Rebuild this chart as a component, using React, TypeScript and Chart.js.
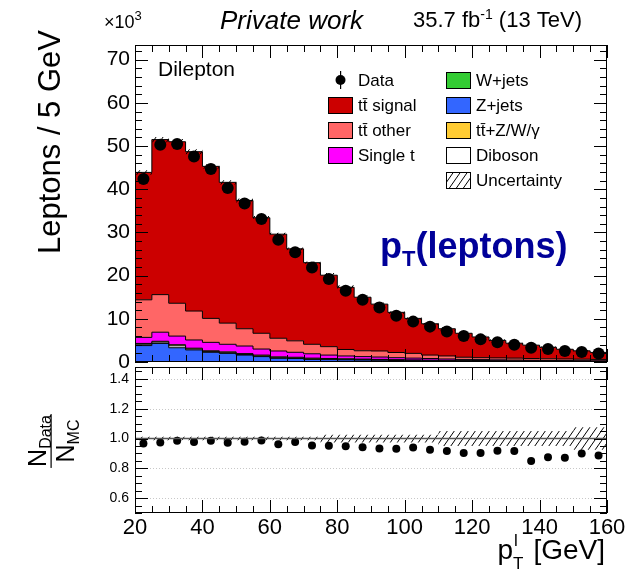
import React, { useEffect, useRef } from "react";
import { Chart, registerables } from "chart.js";
Chart.register(...registerables);

// ---------- data (yields in units of 10^3 leptons / 5 GeV) ----------
const binLowEdges = [20, 25, 30, 35, 40, 45, 50, 55, 60, 65, 70, 75, 80, 85, 90, 95, 100, 105, 110, 115, 120, 125, 130, 135, 140, 145, 150, 155];
const binCenters = [22.5, 27.5, 32.5, 37.5, 42.5, 47.5, 52.5, 57.5, 62.5, 67.5, 72.5, 77.5, 82.5, 87.5, 92.5, 97.5, 102.5, 107.5, 112.5, 117.5, 122.5, 127.5, 132.5, 137.5, 142.5, 147.5, 152.5, 157.5];
const histUpperEdge = 160;

const dataYield = [42.4, 50.3, 50.5, 47.6, 44.7, 40.3, 36.7, 33.1, 28.3, 25.4, 21.9, 19.2, 16.5, 14.4, 12.6, 10.7, 9.35, 8.19, 7.05, 6.0, 5.24, 4.59, 3.98, 3.31, 2.99, 2.57, 2.32, 1.97];
const ttSignal = [29.5, 35.9, 37.4, 36.9, 35.2, 32.6, 29.7, 26.75, 24.1, 21.3, 18.9, 16.55, 14.4, 12.4, 10.85, 9.3, 8.1, 7.25, 6.3, 5.55, 4.8, 4.05, 3.45, 3.1, 2.67, 2.25, 1.93, 1.62];
const ttOther = [8.7, 8.7, 7.6, 6.7, 5.55, 4.9, 4.0, 3.65, 2.95, 2.65, 2.2, 1.95, 1.5, 1.35, 1.4, 1.2, 1.1, 0.8, 0.7, 0.5, 0.45, 0.45, 0.45, 0.4, 0.39, 0.37, 0.35, 0.33];
const singleTop = [1.4, 2.1, 2.0, 1.9, 1.95, 1.75, 1.75, 1.4, 1.35, 1.15, 1.0, 0.78, 0.65, 0.57, 0.54, 0.46, 0.41, 0.36, 0.3, 0.25, 0.22, 0.21, 0.18, 0.15, 0.14, 0.13, 0.11, 0.09];
const wJets = [0.05, 0.05, 0.05, 0.05, 0.04, 0.04, 0.03, 0.03, 0.03, 0.02, 0.02, 0.02, 0.02, 0.02, 0.02, 0.01, 0.01, 0.01, 0.01, 0.01, 0.01, 0.01, 0.01, 0.01, 0.01, 0.01, 0.01, 0.01];
const zJets = [3.75, 4.25, 3.25, 2.75, 2.21, 1.96, 1.57, 1.22, 0.82, 0.78, 0.58, 0.53, 0.48, 0.43, 0.38, 0.34, 0.3, 0.27, 0.24, 0.21, 0.19, 0.17, 0.15, 0.14, 0.12, 0.11, 0.1, 0.09];
const ttV = [0.2, 0.2, 0.25, 0.2, 0.2, 0.2, 0.2, 0.2, 0.2, 0.18, 0.18, 0.17, 0.15, 0.14, 0.13, 0.12, 0.11, 0.1, 0.09, 0.08, 0.08, 0.07, 0.07, 0.06, 0.06, 0.05, 0.05, 0.05];
const diboson = [0.3, 0.3, 0.45, 0.2, 0.15, 0.15, 0.15, 0.15, 0.15, 0.12, 0.12, 0.1, 0.1, 0.09, 0.08, 0.07, 0.07, 0.06, 0.06, 0.05, 0.05, 0.04, 0.04, 0.04, 0.03, 0.03, 0.03, 0.03];
const mcRelUnc = [0.012, 0.012, 0.012, 0.012, 0.012, 0.012, 0.012, 0.012, 0.012, 0.012, 0.012, 0.026, 0.026, 0.026, 0.026, 0.026, 0.026, 0.026, 0.05, 0.05, 0.05, 0.05, 0.05, 0.05, 0.05, 0.05, 0.075, 0.075];
const dataOverMC = [0.966, 0.974, 0.985, 0.976, 0.985, 0.972, 0.978, 0.987, 0.961, 0.976, 0.953, 0.951, 0.948, 0.942, 0.933, 0.931, 0.94, 0.925, 0.916, 0.903, 0.903, 0.918, 0.916, 0.849, 0.875, 0.871, 0.899, 0.886];

const upperYTicks = [0, 10, 20, 30, 40, 50, 60, 70];
const ratioYTicks = [0.6, 0.8, 1, 1.2, 1.4];
const xTickLabels = [20, 40, 60, 80, 100, 120, 140, 160];

const FONT = '"Liberation Sans", Arial, Helvetica, sans-serif';
const COL = {
  signal: "#cc0000",
  other: "#ff6666",
  single: "#ff00ff",
  w: "#33cc33",
  z: "#3366ff",
  ttv: "#ffcc33",
  vv: "#ffffff",
};

const stepPoints = (vals: number[]) => [
  ...binLowEdges.map((x, i) => ({ x, y: vals[i] })),
  { x: histUpperEdge, y: vals[vals.length - 1] },
];

type Seg = { t: string; font: string; dy?: number };
function drawSegs(ctx: CanvasRenderingContext2D, segs: Seg[], x: number, y: number, align: "left" | "right" | "center" = "left") {
  ctx.textAlign = "left";
  ctx.textBaseline = "alphabetic";
  let total = 0;
  const ws = segs.map((s) => {
    ctx.font = s.font;
    const w = ctx.measureText(s.t).width;
    total += w;
    return w;
  });
  let cx = align === "left" ? x : align === "right" ? x - total : x - total / 2;
  segs.forEach((s, i) => {
    ctx.font = s.font;
    ctx.fillText(s.t, cx, y + (s.dy || 0));
    cx += ws[i];
  });
  return total;
}

function makeHatch(ctx: CanvasRenderingContext2D) {
  const c = document.createElement("canvas");
  const w = 7, h = 10;
  c.width = w;
  c.height = h;
  const g = c.getContext("2d")!;
  g.strokeStyle = "#000";
  g.lineWidth = 1;
  g.beginPath();
  for (const off of [-w, 0, w]) {
    g.moveTo(off, h);
    g.lineTo(off + w, 0);
  }
  g.stroke();
  return ctx.createPattern(c, "repeat")!;
}

function frameTicks(chart: any, xMinor: number, xMajor: number, yMin: number, yMax: number, yMinor: number, yMajorList: number[]) {
  const { ctx, chartArea: a, scales } = chart;
  const xs = scales.x, ys = scales.y;
  ctx.save();
  ctx.strokeStyle = "#000";
  ctx.lineWidth = 1;
  ctx.beginPath();
  for (let v = 20; v <= 160 + 1e-6; v += xMinor) {
    const px = Math.round(xs.getPixelForValue(v)) + 0.5;
    const major = Math.abs(v / xMajor - Math.round(v / xMajor)) < 1e-6;
    const len = major ? 13 : 7;
    ctx.moveTo(px, a.bottom);
    ctx.lineTo(px, a.bottom - len);
    ctx.moveTo(px, a.top);
    ctx.lineTo(px, a.top + len);
  }
  for (let v = yMin; v <= yMax + 1e-6; v += yMinor) {
    const py = Math.round(ys.getPixelForValue(v)) + 0.5;
    const major = yMajorList.some((m) => Math.abs(m - v) < 1e-6);
    const len = major ? 13 : 7;
    ctx.moveTo(a.left, py);
    ctx.lineTo(a.left + len, py);
    ctx.moveTo(a.right, py);
    ctx.lineTo(a.right - len, py);
  }
  ctx.stroke();
  ctx.strokeRect(Math.round(a.left) + 0.5, Math.round(a.top) + 0.5, Math.round(a.right - a.left) - 1, Math.round(a.bottom - a.top) - 1);
  ctx.restore();
}

export default function App() {
  const upRef = useRef<HTMLCanvasElement>(null);
  const loRef = useRef<HTMLCanvasElement>(null);

  useEffect(() => {
    const upCtx = upRef.current!.getContext("2d")!;
    const loCtx = loRef.current!.getContext("2d")!;
    const hatchUp = makeHatch(upCtx);
    const hatchLo = makeHatch(loCtx);

    const mcStack = [wJets, zJets, diboson, ttV, singleTop, ttOther, ttSignal];
    const mcTotal = binLowEdges.map((_, i) => mcStack.reduce((s, arr) => s + arr[i], 0));
    const uncLo = mcTotal.map((t, i) => t * (1 - mcRelUnc[i]));
    const uncHi = mcTotal.map((t, i) => t * (1 + mcRelUnc[i]));
    const ratioLo = mcRelUnc.map((u) => 1 - u);
    const ratioHi = mcRelUnc.map((u) => 1 + u);

    const mcDs = (vals: number[], color: string, first: boolean) => ({
      data: stepPoints(vals),
      stepped: "before" as const,
      stack: "mc",
      fill: first ? "origin" : "-1",
      backgroundColor: color,
      borderColor: "#000",
      borderWidth: 1,
      pointRadius: 0,
      order: 3,
    });

    const upperPlugin = {
      id: "upperDecor",
      afterDatasetsDraw(chart: any) {
        frameTicks(chart, 5, 20, 0, 72, 2, upperYTicks);
      },
      afterDraw(chart: any) {
        const ctx: CanvasRenderingContext2D = chart.ctx;
        ctx.save();
        ctx.fillStyle = "#000";
        // exponent
        drawSegs(ctx, [
          { t: "×10", font: `18px ${FONT}` },
          { t: "3", font: `13px ${FONT}`, dy: -8 },
        ], 104, 28);
        drawSegs(ctx, [{ t: "Private work", font: `italic 26px ${FONT}` }], 220, 29);
        drawSegs(ctx, [
          { t: "35.7 fb", font: `22px ${FONT}` },
          { t: "-1", font: `14px ${FONT}`, dy: -8 },
          { t: " (13 TeV)", font: `22px ${FONT}` },
        ], 413, 27);
        drawSegs(ctx, [{ t: "Dilepton", font: `21px ${FONT}` }], 158, 76);
        ctx.fillStyle = "#000099";
        drawSegs(ctx, [
          { t: "p", font: `bold 36px ${FONT}` },
          { t: "T", font: `bold 22px ${FONT}`, dy: 8 },
          { t: "(leptons)", font: `bold 36px ${FONT}` },
        ], 380, 258);
        ctx.fillStyle = "#000";
        // y title
        ctx.save();
        ctx.translate(60, 30);
        ctx.rotate(-Math.PI / 2);
        ctx.font = `31px ${FONT}`;
        ctx.textAlign = "right";
        ctx.textBaseline = "alphabetic";
        ctx.fillText("Leptons / 5 GeV", 0, 0);
        ctx.restore();

        // legend
        const lf = `17px ${FONT}`;
        const col1 = [
          { label: "tt\u0304 signal", color: COL.signal },
          { label: "tt\u0304 other", color: COL.other },
          { label: "Single t", color: COL.single },
        ];
        const col2 = [
          { label: "W+jets", color: COL.w },
          { label: "Z+jets", color: COL.z },
          { label: "tt\u0304+Z/W/γ", color: COL.ttv },
          { label: "Diboson", color: COL.vv },
          { label: "Uncertainty", color: "hatch" },
        ];
        const rowY = [80, 105, 130, 155, 180];
        // data entry
        ctx.beginPath();
        ctx.arc(340.5, rowY[0], 5, 0, Math.PI * 2);
        ctx.fill();
        ctx.fillRect(340, rowY[0] - 9, 1.2, 18);
        drawSegs(ctx, [{ t: "Data", font: lf }], 358, rowY[0] + 6);
        const box = (x: number, cy: number, color: string) => {
          if (color === "hatch") {
            ctx.fillStyle = "#fff";
            ctx.fillRect(x, cy - 8, 25, 17);
            ctx.fillStyle = hatchUp;
          } else ctx.fillStyle = color;
          ctx.fillRect(x, cy - 8, 25, 17);
          ctx.strokeStyle = "#000";
          ctx.lineWidth = 1;
          ctx.strokeRect(x + 0.5, cy - 7.5, 24, 16);
          ctx.fillStyle = "#000";
        };
        col1.forEach((e, i) => {
          box(328, rowY[i + 1], e.color);
          drawSegs(ctx, [{ t: e.label, font: lf }], 358, rowY[i + 1] + 6);
        });
        col2.forEach((e, i) => {
          box(446, rowY[i], e.color);
          drawSegs(ctx, [{ t: e.label, font: lf }], 476, rowY[i] + 6);
        });
        ctx.restore();
      },
    };

    const up = new Chart(upRef.current!, {
      type: "line",
      data: {
        datasets: [
          mcDs(wJets, COL.w, true),
          mcDs(zJets, COL.z, false),
          mcDs(diboson, COL.vv, false),
          mcDs(ttV, COL.ttv, false),
          mcDs(singleTop, COL.single, false),
          mcDs(ttOther, COL.other, false),
          mcDs(ttSignal, COL.signal, false),
          {
            data: stepPoints(uncLo),
            stepped: "before",
            stack: "ulo",
            fill: false,
            borderWidth: 0,
            pointRadius: 0,
            order: 2,
          },
          {
            data: stepPoints(uncHi),
            stepped: "before",
            stack: "uhi",
            fill: "-1",
            backgroundColor: hatchUp,
            borderWidth: 0,
            pointRadius: 0,
            order: 2,
          },
          {
            data: binCenters.map((x, i) => ({ x, y: dataYield[i] })),
            stack: "data",
            showLine: false,
            pointRadius: 6,
            pointBackgroundColor: "#000",
            pointBorderColor: "#000",
            pointBorderWidth: 0,
            order: 0,
          },
        ] as any,
      },
      options: {
        responsive: false,
        animation: false,
        events: [],
        layout: { padding: { left: 0, right: 22, top: 45, bottom: 215 } },
        plugins: { legend: { display: false }, tooltip: { enabled: false } },
        scales: {
          x: { type: "linear", min: 20, max: 160, display: false },
          y: {
            type: "linear",
            min: 0,
            max: 73.4,
            stacked: true,
            grid: { display: false, drawTicks: false },
            border: { display: false },
            ticks: { font: { family: FONT, size: 21 }, color: "#000", padding: 5 },
            afterBuildTicks: (s: any) => {
              s.ticks = upperYTicks.map((v) => ({ value: v }));
            },
            afterFit: (s: any) => {
              s.width = 135;
            },
          },
        },
      } as any,
      plugins: [upperPlugin],
    });

    const lowerPlugin = {
      id: "lowerDecor",
      beforeDatasetsDraw(chart: any) {
        const { ctx, chartArea: a, scales } = chart;
        ctx.save();
        ctx.strokeStyle = "#c8c8c8";
        ctx.lineWidth = 1;
        ctx.setLineDash([1, 2]);
        ctx.beginPath();
        for (const v of [0.6, 0.8, 1.2, 1.4]) {
          const py = Math.round(scales.y.getPixelForValue(v)) + 0.5;
          ctx.moveTo(a.left, py);
          ctx.lineTo(a.right, py);
        }
        ctx.stroke();
        ctx.restore();
      },
      afterDatasetsDraw(chart: any) {
        const { ctx, chartArea: a, scales } = chart;
        ctx.save();
        ctx.strokeStyle = "#555";
        ctx.lineWidth = 1.6;
        ctx.beginPath();
        const py = scales.y.getPixelForValue(1);
        ctx.moveTo(a.left, py);
        ctx.lineTo(a.right, py);
        ctx.stroke();
        ctx.restore();
        frameTicks(chart, 5, 20, 0.5, 1.45, 0.05, ratioYTicks);
      },
      afterDraw(chart: any) {
        const ctx: CanvasRenderingContext2D = chart.ctx;
        ctx.save();
        ctx.fillStyle = "#000";
        // y title: N_Data / N_MC
        ctx.save();
        ctx.translate(51, 441);
        ctx.rotate(-Math.PI / 2);
        const numW = drawSegs(ctx, [
          { t: "N", font: `25px ${FONT}` },
          { t: "Data", font: `16px ${FONT}`, dy: 5 },
        ], 0, -5, "center");
        const denW = drawSegs(ctx, [
          { t: "N", font: `25px ${FONT}` },
          { t: "MC", font: `16px ${FONT}`, dy: 5 },
        ], 0, 23, "center");
        const fw = Math.max(numW, denW) + 2;
        ctx.fillRect(-fw / 2, -0.5, fw, 1.2);
        ctx.restore();
        // x title
        ctx.textBaseline = "alphabetic";
        ctx.font = `28px ${FONT}`;
        const gevW = ctx.measureText("[GeV]").width;
        const gevX = 605 - gevW;
        ctx.fillText("[GeV]", gevX, 559);
        ctx.font = `17px ${FONT}`;
        const subW = ctx.measureText("T").width;
        const subX = gevX - 10 - subW;
        ctx.fillText("T", subX, 569);
        ctx.fillText("l", subX + 1, 546);
        ctx.font = `28px ${FONT}`;
        const pW = ctx.measureText("p").width;
        ctx.fillText("p", subX - pW, 559);
        ctx.restore();
      },
    };

    const lo = new Chart(loRef.current!, {
      type: "line",
      data: {
        datasets: [
          {
            data: binCenters.map((x, i) => ({ x, y: dataOverMC[i] })),
            showLine: false,
            pointRadius: 4,
            pointBackgroundColor: "#000",
            pointBorderColor: "#000",
            pointBorderWidth: 0,
            order: 0,
          },
          {
            data: stepPoints(ratioLo),
            stepped: "before",
            fill: false,
            borderWidth: 0,
            pointRadius: 0,
            order: 2,
          },
          {
            data: stepPoints(ratioHi),
            stepped: "before",
            fill: "-1",
            backgroundColor: hatchLo,
            borderWidth: 0,
            pointRadius: 0,
            order: 2,
          },
        ] as any,
      },
      options: {
        responsive: false,
        animation: false,
        events: [],
        layout: { padding: { left: 0, right: 22, top: 367, bottom: 0 } },
        plugins: { legend: { display: false }, tooltip: { enabled: false } },
        scales: {
          x: {
            type: "linear",
            min: 20,
            max: 160,
            grid: { display: false, drawTicks: false },
            border: { display: false },
            ticks: { font: { family: FONT, size: 22 }, color: "#000", padding: 2, maxRotation: 0, autoSkip: false },
            afterBuildTicks: (s: any) => {
              s.ticks = xTickLabels.map((v) => ({ value: v }));
            },
            afterFit: (s: any) => {
              s.height = 64;
            },
          },
          y: {
            type: "linear",
            min: 0.5,
            max: 1.48,
            grid: { display: false, drawTicks: false },
            border: { display: false },
            ticks: { font: { family: FONT, size: 14 }, color: "#000", padding: 6 },
            afterBuildTicks: (s: any) => {
              s.ticks = ratioYTicks.map((v) => ({ value: v }));
            },
            afterFit: (s: any) => {
              s.width = 135;
            },
          },
        },
      } as any,
      plugins: [lowerPlugin],
    });

    return () => {
      up.destroy();
      lo.destroy();
    };
  }, []);

  return (
    <div style={{ position: "absolute", left: 0, top: 0, width: 629, height: 577, background: "#fff" }}>
      <canvas ref={upRef} width={629} height={577} style={{ position: "absolute", left: 0, top: 0 }} />
      <canvas ref={loRef} width={629} height={577} style={{ position: "absolute", left: 0, top: 0 }} />
    </div>
  );
}
